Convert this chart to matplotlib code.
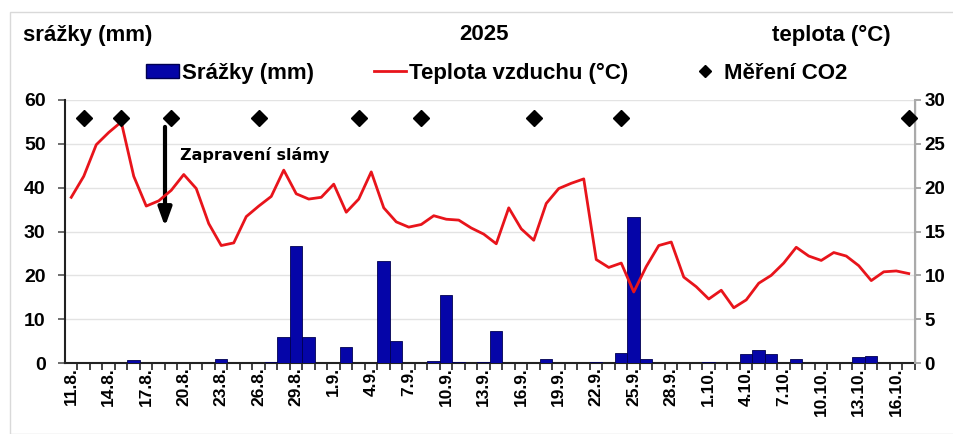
import matplotlib
matplotlib.use("Agg")
import matplotlib.pyplot as plt
from matplotlib.lines import Line2D
from matplotlib.patches import Patch, Rectangle

plt.rcParams['font.family'] = ['Liberation Sans', 'DejaVu Sans']
plt.rcParams['font.weight'] = 'bold'

# 68 days: 11.8. .. 17.10.
n_days = 68
tick_idx = list(range(0, 67, 3))
tick_labels = ["11.8.", "14.8.", "17.8.", "20.8.", "23.8.", "26.8.", "29.8.", "1.9.",
               "4.9.", "7.9.", "10.9.", "13.9.", "16.9.", "19.9.", "22.9.", "25.9.",
               "28.9.", "1.10.", "4.10.", "7.10.", "10.10.", "13.10.", "16.10."]

temperature = [18.9, 21.3, 24.9, 26.3, 27.5, 21.3, 17.9, 18.5, 19.7, 21.5,
               19.9, 15.9, 13.4, 13.7, 16.7, 17.9, 19.0, 22.0, 19.3, 18.7,
               18.9, 20.4, 17.2, 18.7, 21.8, 17.7, 16.1, 15.5, 15.8, 16.8,
               16.4, 16.3, 15.4, 14.7, 13.6, 17.7, 15.3, 14.0, 18.2, 19.9,
               20.5, 21.0, 11.8, 10.9, 11.4, 8.1, 11.0, 13.4, 13.8, 9.8,
               8.7, 7.3, 8.3, 6.3, 7.2, 9.1, 10.0, 11.4, 13.2, 12.2,
               11.7, 12.6, 12.2, 11.1, 9.4, 10.4, 10.5, 10.2]

precip = [0.0] * n_days
precip_days = {5: 0.6, 12: 1.0, 16: 0.2, 17: 5.9, 18: 26.6, 19: 5.9, 22: 3.6,
               25: 23.3, 26: 5.1, 29: 0.4, 30: 15.4, 31: 0.2, 33: 0.2, 34: 7.4,
               35: 0.1, 38: 0.8, 42: 0.3, 44: 2.2, 45: 33.3, 46: 1.0, 51: 0.2,
               54: 2.1, 55: 2.9, 56: 2.1, 58: 0.8, 63: 1.4, 64: 1.7, 65: 0.1, 67: 0.1}
for k, v in precip_days.items():
    precip[k] = v

co2_days = [1, 4, 8, 15, 23, 28, 37, 44, 67]
co2_level = [28] * len(co2_days)

x = list(range(n_days))

fig = plt.figure(figsize=(9.54, 4.34), dpi=100)
fig.patches.append(Rectangle((10/954, 0), 1, 1 - 12/434, transform=fig.transFigure,
                             fill=False, edgecolor='#d9d9d9', linewidth=1))

ax = fig.add_axes([65/954, 71/434, 850/954, 263/434])
ax2 = ax.twinx()

ax.bar(x, precip, width=1.0, color='#0505A8', edgecolor='#000050', linewidth=0.6, zorder=3)
ax.set_ylim(0, 60)
ax.set_yticks(range(0, 61, 10))
ax.set_xlim(-0.5, n_days - 0.5)
ax.yaxis.grid(True, color='#e3e3e3', linewidth=1, zorder=0)
ax.set_axisbelow(True)

ax2.plot(x, temperature, color='#E8141B', linewidth=2, zorder=4)
ax2.plot(co2_days, co2_level, linestyle='none', marker='D', markersize=8.5,
         color='black', zorder=5, clip_on=False)
ax2.set_ylim(0, 30)
ax2.set_yticks(range(0, 31, 5))

# x ticks: labels at category centers, marks at boundaries
ax.set_xticks(tick_idx)
ax.set_xticklabels(tick_labels, rotation=90, fontsize=12.5, fontweight='bold')
ax.tick_params(axis='x', length=0, pad=3)
ax.set_xticks([i - 0.5 for i in range(1, n_days + 1)], minor=True)
ax.tick_params(axis='x', which='minor', length=5, direction='out', width=1.2, color='#222222')

ax.tick_params(axis='y', labelsize=14, length=5, width=1.2, color='#555555', pad=9)
ax2.tick_params(axis='y', labelsize=13.5, length=4, width=1.2, color='#999999', pad=3)
for lab in ax.get_yticklabels() + ax2.get_yticklabels():
    lab.set_fontweight('bold')

for a in (ax, ax2):
    a.spines['top'].set_visible(False)
ax.spines['left'].set_color('#222222')
ax.spines['left'].set_linewidth(1.5)
ax.spines['bottom'].set_color('#222222')
ax.spines['bottom'].set_linewidth(1.5)
ax2.spines['right'].set_color('#aaaaaa')
ax2.spines['right'].set_linewidth(1.5)
ax2.spines['left'].set_visible(False)
ax2.spines['bottom'].set_visible(False)

# Arrow and annotation
ax.annotate('', xy=(7.5, 30.5), xytext=(7.5, 54.5),
            arrowprops=dict(arrowstyle='-|>,head_width=0.4,head_length=1.1',
                            color='black', linewidth=3), zorder=6)
ax.text(8.7, 47.5, 'Zapravení slámy', fontsize=11.5, fontweight='bold',
        family=['DejaVu Sans'], va='center', ha='left', zorder=6)

# Header
hy = 1 - 35/434
fig.text(23/954, hy, 'srážky (mm)', fontsize=16, fontweight='bold', va='center', ha='left')
fig.text(484/954, hy, '2025', fontsize=16, fontweight='bold', va='center', ha='center')
fig.text(891/954, hy, 'teplota (°C)', fontsize=16, fontweight='bold', va='center', ha='right')

handles = [Patch(facecolor='#0505A8', edgecolor='#000050'),
           Line2D([0], [0], color='#E8141B', linewidth=2),
           Line2D([0], [0], linestyle='none', marker='D', markersize=6, color='black')]
labels = ['Srážky (mm)', 'Teplota vzduchu (°C)', 'Měření CO2']
fig.legend(handles, labels, loc='center', bbox_to_anchor=(497/954, 1 - 73/434), ncol=3,
           frameon=False, handlelength=1.45, handleheight=0.6, handletextpad=0.15,
           columnspacing=2.7, borderpad=0, prop={'weight': 'bold', 'size': 16})

fig.savefig('out.png', dpi=100)
